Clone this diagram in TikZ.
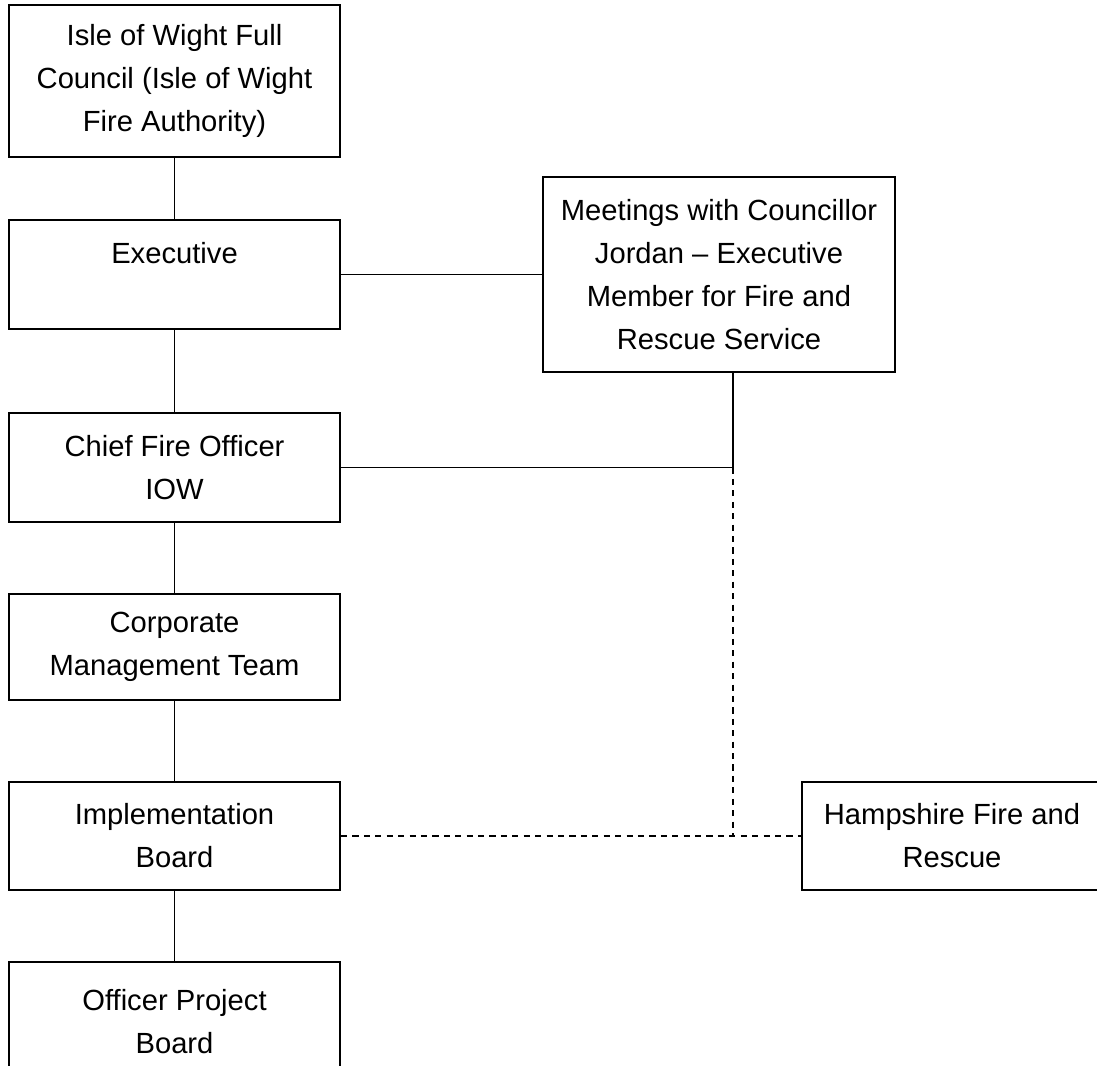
\documentclass[tikz,border=0pt]{standalone}
\usepackage{fontspec}
\setmainfont{Liberation Sans}
\usepackage{tikz}
\usetikzlibrary{calc}

\begin{document}
\begin{tikzpicture}[
    box/.style={draw, line width=1.1pt, rectangle, align=center, inner sep=0pt,
        minimum width=6.62cm, font=\fontsize{16.6}{24.5}\selectfont},
    link/.style={line width=1.1pt},
    dotlink/.style={line width=1.1pt, dash pattern=on 3.5pt off 3pt}
]

% Page
\clip (0,0) rectangle (21.94,21.3);

% Left column
\node[box, minimum height=3.04cm] (council) at (3.49,19.68)
    {Isle of Wight Full\\Council (Isle of Wight\\Fire Authority)};
\node[box, minimum height=2.18cm] (exec) at (3.49,15.81) {Executive\\~};
\node[box, minimum height=2.18cm] (cfo) at (3.49,11.95) {Chief Fire Officer\\IOW};
\node[box, minimum height=2.12cm] (cmt) at (3.49,8.36) {Corporate\\Management Team};
\node[box, minimum height=2.16cm] (impl) at (3.49,4.58) {Implementation\\Board};
\node[box, minimum height=2.4cm] (opb) at (3.49,0.86) {Officer Project\\Board};

% Right side
\node[box, minimum width=7.04cm, minimum height=3.9cm] (meet) at (14.38,15.81)
    {Meetings with Councillor\\Jordan -- Executive\\Member for Fire and\\Rescue Service};
\node[box, minimum width=6cm, minimum height=2.16cm] (hfr) at (19.04,4.58)
    {Hampshire Fire and\\Rescue};

% Junctions
\coordinate (j1) at (14.66,11.95);
\coordinate (j2) at (14.66,4.58);

% Chain
\draw[link] (council) -- (exec);
\draw[link] (exec) -- (cfo);
\draw[link] (cfo) -- (cmt);
\draw[link] (cmt) -- (impl);
\draw[link] (impl) -- (opb);

% Links to meetings
\draw[link] (exec) -- (meet);
\draw[link] (cfo) -- (j1);
\draw[link] (j1) -- (meet.south -| j1);

% Hampshire
\draw[dotlink] (j1) -- (j2);
\draw[dotlink] (impl) -- (hfr);

\end{tikzpicture}
\end{document}
